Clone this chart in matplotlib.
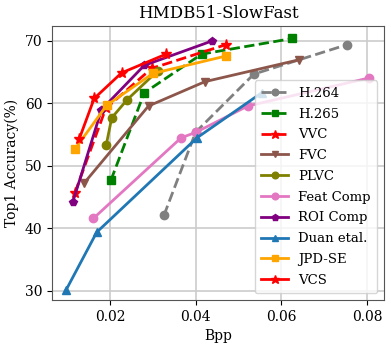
import matplotlib
matplotlib.use("Agg")
import matplotlib.pyplot as plt

plt.rcParams['font.family'] = ['DejaVu Serif']

h264_x = [0.0326, 0.0400, 0.0536, 0.0753]
h264_y = [42.1, 55.4, 64.7, 69.4]
h265_x = [0.0202, 0.0280, 0.0414, 0.0626]
h265_y = [47.7, 61.7, 67.9, 70.4]
vvc_x = [0.0118, 0.0190, 0.0297, 0.0470]
vvc_y = [45.7, 59.2, 65.6, 69.4]
fvc_x = [0.0140, 0.0290, 0.0422, 0.0642]
fvc_y = [47.3, 59.6, 63.5, 67.0]
plvc_x = [0.0191, 0.0204, 0.0240, 0.0311]
plvc_y = [53.3, 57.7, 60.6, 65.2]
feat_x = [0.0161, 0.0366, 0.0401, 0.0522, 0.0806]
feat_y = [41.6, 54.5, 55.4, 59.6, 64.1]
roi_x = [0.0113, 0.0180, 0.0280, 0.0438]
roi_y = [44.2, 59.0, 66.1, 70.0]
duan_x = [0.0097, 0.0169, 0.0403, 0.0554]
duan_y = [30.1, 39.4, 54.5, 61.7]
jpd_x = [0.0118, 0.0192, 0.0300, 0.0471]
jpd_y = [52.7, 59.7, 64.8, 67.6]
vcs_x = [0.0128, 0.0163, 0.0227, 0.0331]
vcs_y = [54.3, 60.8, 64.9, 67.9]

fig = plt.figure(figsize=(3.91, 3.46), dpi=100)
ax = fig.add_axes([52/391, 1-300/346, 332/391, 274/346])

ax.plot(h264_x, h264_y, '--o', color='gray', lw=2, ms=6, label='H.264')
ax.plot(h265_x, h265_y, '--s', color='green', lw=2, ms=6, label='H.265')
ax.plot(vvc_x, vvc_y, '--*', color='red', lw=2, ms=8, label='VVC')
ax.plot(fvc_x, fvc_y, '-v', color='#8c564b', lw=2, ms=6, label='FVC')
ax.plot(plvc_x, plvc_y, '-o', color='olive', lw=2, ms=6, label='PLVC')
ax.plot(feat_x, feat_y, '-o', color='#e377c2', lw=2, ms=6, label='Feat Comp')
ax.plot(roi_x, roi_y, '-p', color='purple', lw=2, ms=6, label='ROI Comp')
ax.plot(duan_x, duan_y, '-^', color='#1f77b4', lw=2, ms=6, label='Duan etal.')
ax.plot(jpd_x, jpd_y, '-s', color='orange', lw=2, ms=6, label='JPD-SE')
ax.plot(vcs_x, vcs_y, '-*', color='red', lw=2, ms=8, label='VCS')

ax.set_xlim(0.00645, 0.0840)
ax.set_ylim(28.55, 72.4)
ax.set_xticks([0.02, 0.04, 0.06, 0.08])
ax.set_yticks([30, 40, 50, 60, 70])
ax.tick_params(labelsize=10)
ax.grid(True, color='#cccccc', lw=1.2)
for s in ax.spines.values():
    s.set_color('#555555')
ax.set_xlabel('Bpp', fontsize=10)
ax.set_ylabel('Top1 Accuracy(%)', fontsize=10)
ax.set_title('HMDB51-SlowFast', fontsize=12)
ax.legend(loc='lower right', fontsize=9.5, handlelength=2.0, labelspacing=0.59,
          borderpad=0.5, markerscale=0.8, framealpha=0.8)

fig.savefig('out.png', dpi=100)
